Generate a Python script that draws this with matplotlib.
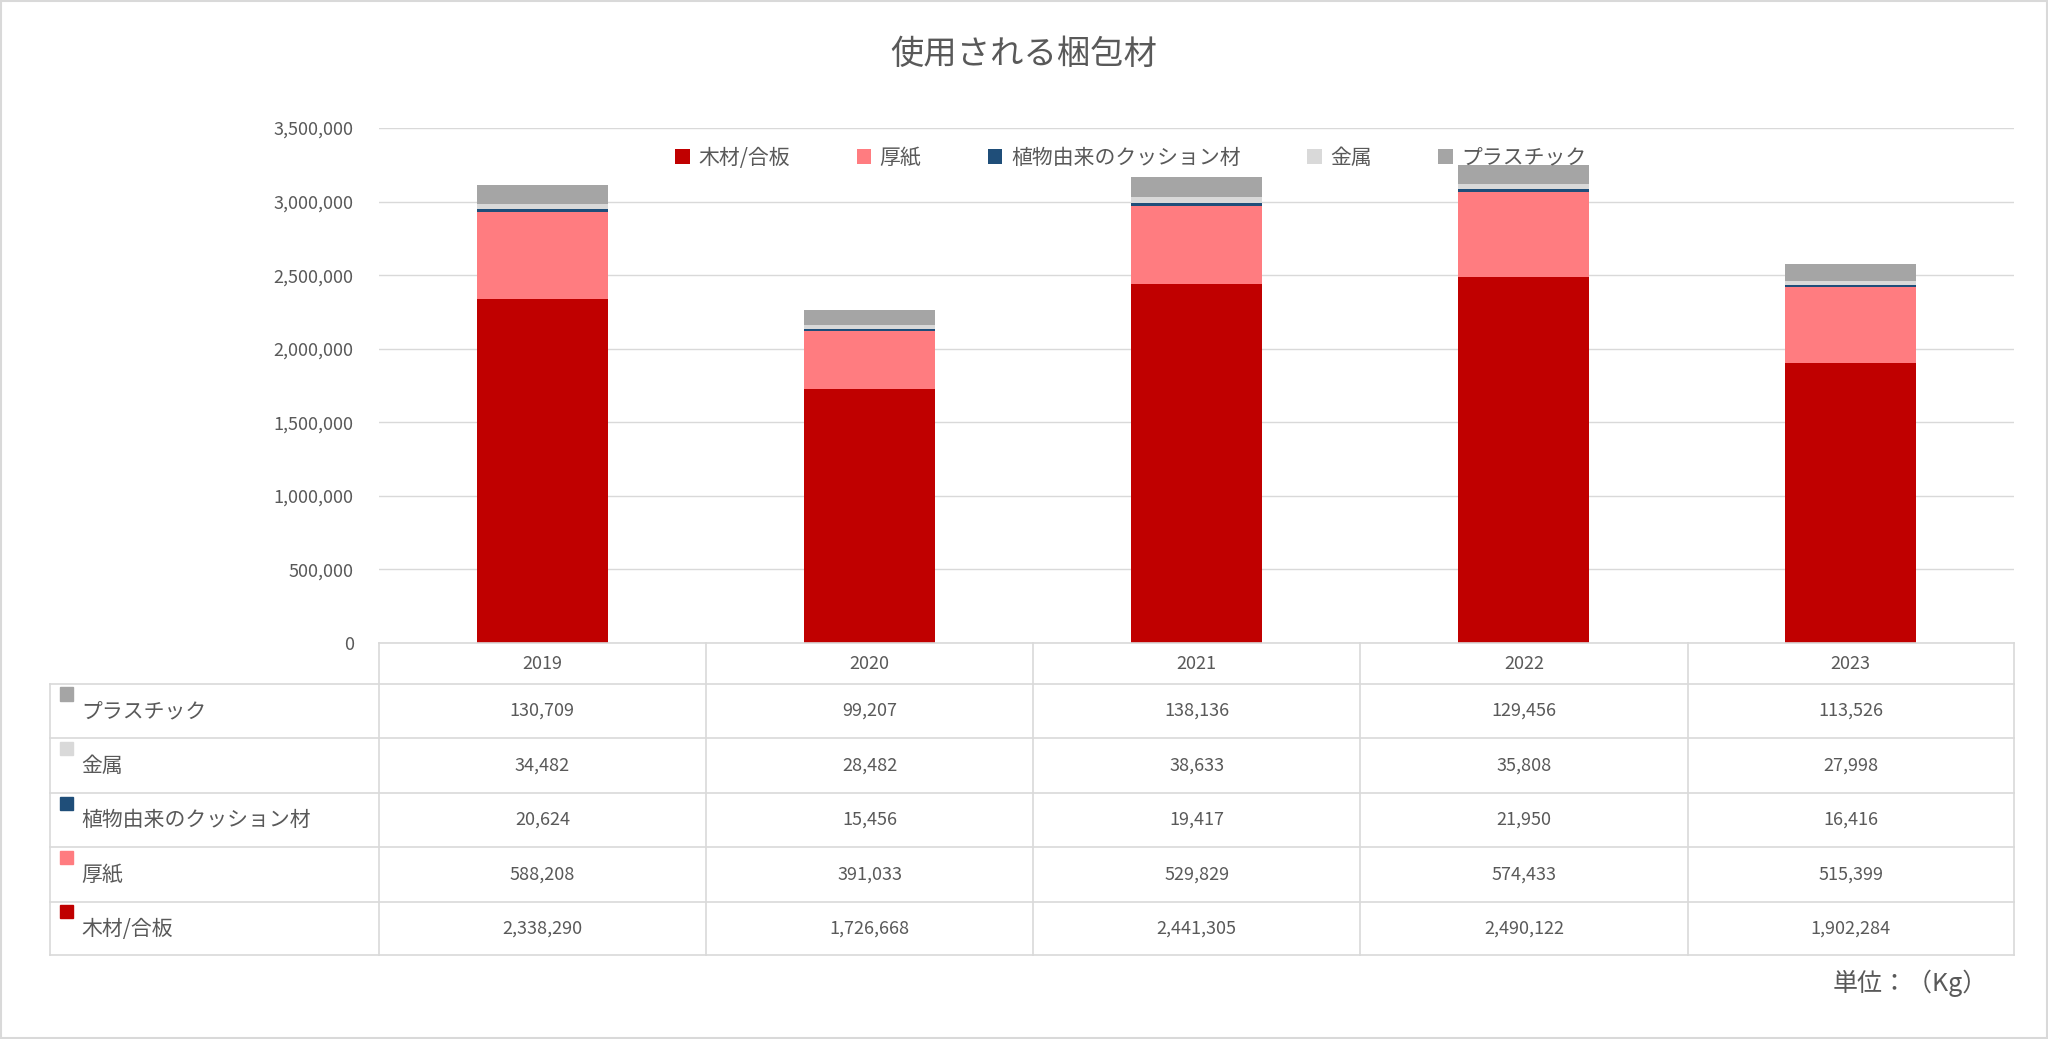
import matplotlib
matplotlib.use("Agg")
import matplotlib.pyplot as plt
from matplotlib.lines import Line2D
from matplotlib.patches import Rectangle

plt.rcParams['font.family'] = ['Noto Sans CJK JP', 'DejaVu Sans']

years = ['2019', '2020', '2021', '2022', '2023']
series = ['木材/合板', '厚紙', '植物由来のクッション材', '金属', 'プラスチック']
wood = [2338290, 1726668, 2441305, 2490122, 1902284]
card = [588208, 391033, 529829, 574433, 515399]
plant = [20624, 15456, 19417, 21950, 16416]
metal = [34482, 28482, 38633, 35808, 27998]
plastic = [130709, 99207, 138136, 129456, 113526]
values = [wood, card, plant, metal, plastic]
colors = ['#C00000', '#FF7C80', '#1F4E79', '#D9D9D9', '#A5A5A5']
txt = '#595959'
grid = '#D9D9D9'

W, H = 2048, 1039
fig = plt.figure(figsize=(W/100, H/100), dpi=100)
sx, sy = W/1568, H/795
def fx(x): return x/1568
def fy(y): return 1 - y/795

ax = fig.add_axes([fx(290), fy(492), fx(1542)-fx(290), fy(98)-fy(492)])
x = range(len(years))
bottom = [0]*5
for name, v, c in zip(series, values, colors):
    ax.bar(x, v, 0.4, bottom=bottom, color=c, label=name)
    bottom = [b+vv for b, vv in zip(bottom, v)]
ax.set_xlim(-0.5, 4.5)
ax.set_ylim(0, 3500000)
ax.set_yticks(range(0, 3500001, 500000))
ax.set_yticklabels([f'{t:,}' for t in range(0, 3500001, 500000)], color=txt, fontsize=13)
ax.set_xticks([])
ax.tick_params(axis='y', length=0, pad=18)
ax.grid(axis='y', color=grid, lw=1)
ax.set_axisbelow(True)
for s in ax.spines.values():
    s.set_visible(False)
leg = ax.legend(loc='upper center', bbox_to_anchor=(0.46, 1.0), ncol=5, frameon=False,
                fontsize=15, handlelength=0.7, handleheight=0.7, columnspacing=3.2,
                labelcolor=txt, handletextpad=0.4)

fig.text(0.5, fy(42), '使用される梱包材', ha='center', va='center', fontsize=24, color=txt)

# table
colx = [38, 290, 540.5, 791, 1041.5, 1292, 1542]
rowy = [492, 523, 565, 607, 648, 690, 731]
lc = '#D9D9D9'
fig.add_artist(Line2D([fx(290), fx(1542)], [fy(492)]*2, color=lc, lw=1.2))
for y in rowy[1:]:
    fig.add_artist(Line2D([fx(38), fx(1542)], [fy(y)]*2, color=lc, lw=1.2))
for i, xx in enumerate(colx):
    y0 = 492 if i > 0 else 523
    fig.add_artist(Line2D([fx(xx)]*2, [fy(y0), fy(731)], color=lc, lw=1.2))
for j, yr in enumerate(years):
    fig.text(fx((colx[j+1]+colx[j+2])/2), fy(508), yr, ha='center', va='center', fontsize=13, color=txt)
order = [4, 3, 2, 1, 0]
for r, si in enumerate(order):
    yc = (rowy[r+1]+rowy[r+2])/2
    fig.add_artist(Rectangle((fx(46), fy(yc-8)-0.0), fx(10), fy(yc-10)-fy(yc)-0.0 if False else (10/795),
                             color=colors[si], transform=fig.transFigure))
    fig.text(fx(62), fy(yc), series[si], ha='left', va='center', fontsize=15, color=txt)
    for j in range(5):
        fig.text(fx((colx[j+1]+colx[j+2])/2), fy(yc), f'{values[si][j]:,}', ha='center', va='center',
                 fontsize=13, color=txt)

fig.text(fx(1522), fy(752), '単位：（Kg）', ha='right', va='center', fontsize=18, color=txt)
fig.add_artist(Rectangle((0.0005, 0.0005), 0.999, 0.999, fill=False, ec='#D9D9D9', lw=1.5,
                         transform=fig.transFigure))
fig.savefig('out.png', dpi=100, facecolor='white')
